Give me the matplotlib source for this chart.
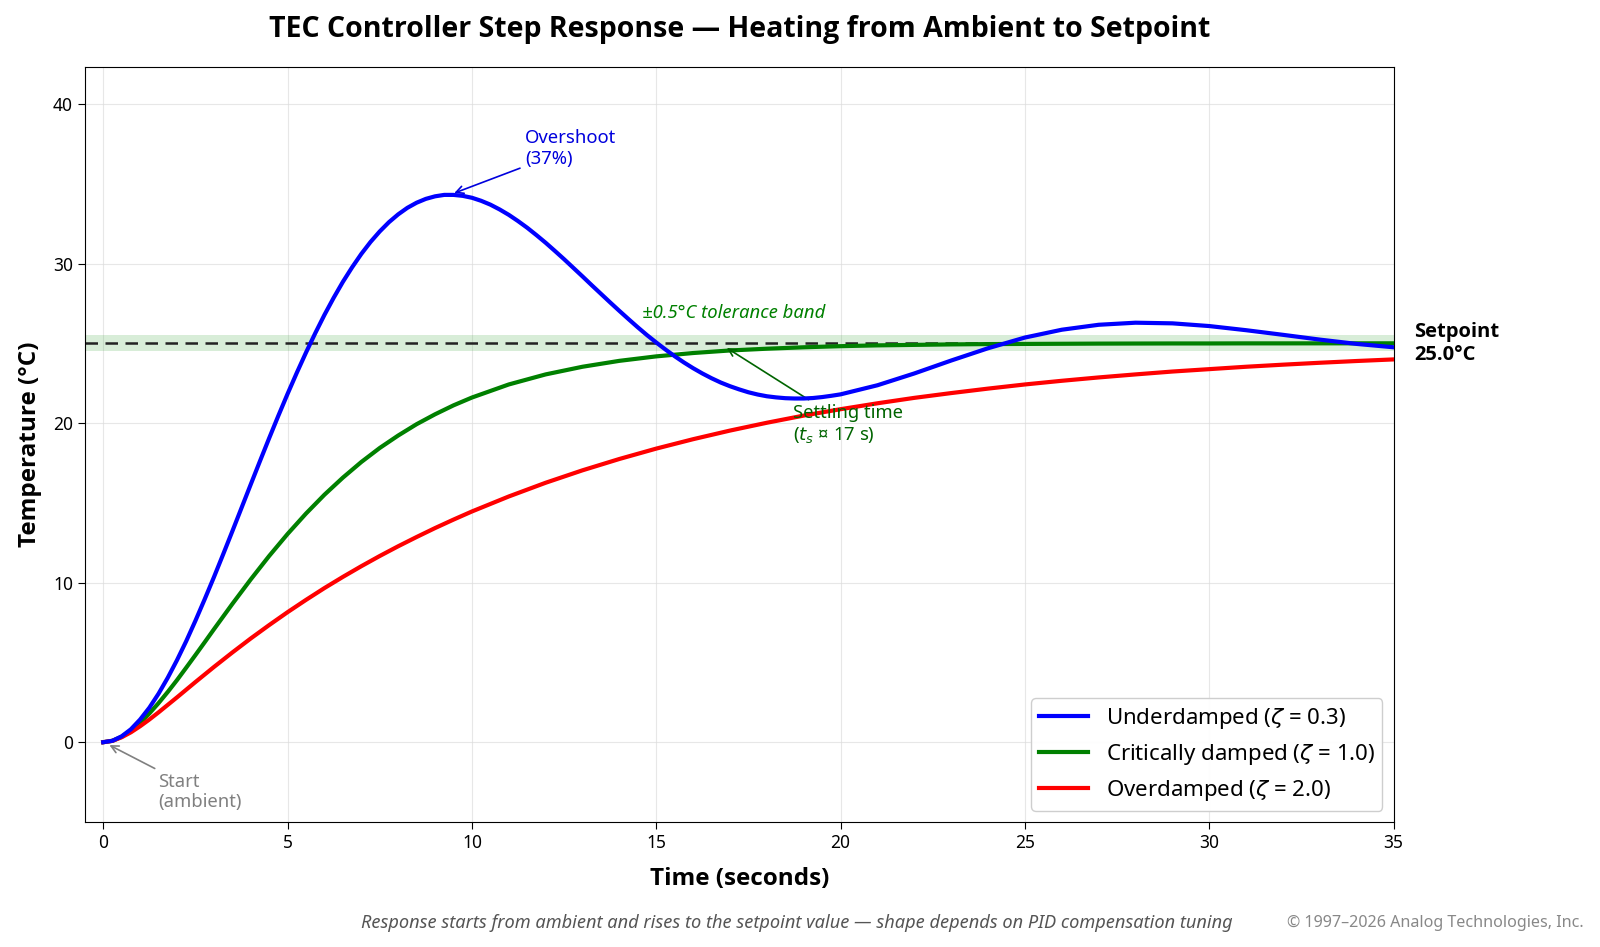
import matplotlib
matplotlib.use("Agg")
import matplotlib.pyplot as plt
from matplotlib import font_manager as fm
from matplotlib.font_manager import FontProperties

# ---------------- data ----------------
setpoint = 25.0
tol = 0.5

t_under = [0, 0.25, 0.5, 0.75, 1, 1.25, 1.5, 1.75, 2, 2.25, 2.5, 2.75, 3, 3.25,
           3.5, 3.75, 4, 4.25, 4.5, 4.75, 5, 5.25, 5.5, 5.75, 6, 6.25, 6.5, 6.75,
           7, 7.25, 7.5, 7.75, 8, 8.25, 8.5, 8.75, 9, 9.25, 9.5, 9.75, 10, 10.25,
           10.5, 10.75, 11, 11.25, 11.5, 11.75, 12, 12.25, 12.5, 12.75, 13, 13.25,
           13.5, 13.75, 14, 14.25, 14.5, 14.75, 15, 15.25, 15.5, 15.75, 16, 16.25,
           16.5, 16.75, 17, 17.25, 17.5, 17.75, 18, 18.25, 18.5, 18.75, 19, 19.25,
           19.5, 19.75, 20, 21, 22, 23, 24, 25, 26, 27, 28, 29, 30, 31, 32, 33,
           34, 35]
y_under = [0.0, 0.09, 0.37, 0.81, 1.42, 2.16, 3.04, 4.04, 5.14, 6.33, 7.61, 8.95,
           10.33, 11.76, 13.21, 14.68, 16.15, 17.61, 19.05, 20.46, 21.83, 23.15,
           24.42, 25.63, 26.78, 27.85, 28.85, 29.76, 30.60, 31.35, 32.01, 32.59,
           33.08, 33.49, 33.81, 34.05, 34.21, 34.30, 34.30, 34.24, 34.12, 33.93,
           33.69, 33.39, 33.05, 32.66, 32.24, 31.78, 31.30, 30.79, 30.27, 29.73,
           29.19, 28.64, 28.10, 27.56, 27.03, 26.51, 26.00, 25.51, 25.05, 24.61,
           24.19, 23.80, 23.44, 23.11, 22.81, 22.54, 22.31, 22.11, 21.93, 21.79,
           21.68, 21.61, 21.56, 21.54, 21.54, 21.57, 21.63, 21.71, 21.80,
           22.37, 23.11, 23.92, 24.69, 25.36, 25.85, 26.16, 26.29, 26.25, 26.08,
           25.82, 25.53, 25.23, 24.96, 24.75]

t_damp = [0, 0.25, 0.5, 0.75, 1, 1.25, 1.5, 1.75, 2, 2.25, 2.5, 2.75, 3, 3.5, 4,
          4.5, 5, 5.5, 6, 6.5, 7, 7.5, 8, 8.5, 9, 9.5, 10, 11, 12, 13, 14, 15, 16,
          17, 18, 19, 20, 21, 22, 23, 24, 25, 26, 27, 28, 29, 30, 31, 32, 33, 34, 35]
y_crit = [0.0, 0.09, 0.34, 0.72, 1.22, 1.80, 2.45, 3.15, 3.89, 4.67, 5.46, 6.26,
          7.07, 8.66, 10.20, 11.67, 13.05, 14.33, 15.51, 16.58, 17.56, 18.44,
          19.22, 19.93, 20.55, 21.11, 21.60, 22.42, 23.05, 23.53, 23.90, 24.18,
          24.39, 24.55, 24.66, 24.75, 24.82, 24.87, 24.90, 24.93, 24.95, 24.96,
          24.97, 24.98, 24.985, 24.99, 24.99, 24.995, 24.995, 24.997, 24.998, 24.998]
y_over = [0.0, 0.085, 0.31, 0.62, 1.00, 1.42, 1.87, 2.34, 2.81, 3.29, 3.77, 4.24,
          4.71, 5.62, 6.50, 7.34, 8.15, 8.92, 9.66, 10.36, 11.03, 11.67, 12.28,
          12.86, 13.42, 13.95, 14.46, 15.40, 16.26, 17.04, 17.75, 18.40, 18.99,
          19.53, 20.02, 20.47, 20.87, 21.24, 21.58, 21.88, 22.16, 22.42, 22.65,
          22.86, 23.05, 23.23, 23.38, 23.53, 23.66, 23.78, 23.89, 23.99]

labels = ["Underdamped ($\\zeta$ = 0.3)", "Critically damped ($\\zeta$ = 1.0)",
          "Overdamped ($\\zeta$ = 2.0)"]
colors = ["#0000ff", "#008000", "#ff0000"]

x_ticks = [0, 5, 10, 15, 20, 25, 30, 35]
y_ticks = [0, 10, 20, 30, 40]


# ---------------- font selection (prefer normal-width Noto Sans) ----------------
def _wnum(w):
    if isinstance(w, (int, float)):
        return w
    return {'normal': 400, 'regular': 400, 'book': 400, 'medium': 500,
            'semibold': 600, 'demibold': 600, 'bold': 700, 'heavy': 800,
            'black': 900, 'light': 300}.get(str(w).lower(), 400)


def _stretch_ok(s):
    if isinstance(s, (int, float)):
        return s == 500
    return str(s).lower() in ('normal', 'medium')


def fprops(size, weight=400, style='normal'):
    for name in ['Noto Sans', 'Open Sans']:
        cands = [f for f in fm.fontManager.ttflist
                 if f.name == name and f.style == style]
        if not cands:
            continue
        best = min(cands, key=lambda f: (0 if _stretch_ok(f.stretch) else 1,
                                         'ondensed' in f.fname or 'Cond' in f.fname,
                                         abs(_wnum(f.weight) - weight)))
        if abs(_wnum(best.weight) - weight) <= 150:
            return FontProperties(fname=best.fname, size=size)
    return FontProperties(family='DejaVu Sans', size=size,
                          weight='bold' if weight >= 600 else 'normal', style=style)


plt.rcParams['font.family'] = ['Noto Sans', 'DejaVu Sans']

# ---------------- figure ----------------
fig = plt.figure(figsize=(16, 9.47), dpi=100)
ax = fig.add_axes([0.053, 0.132, 0.818, 0.797])

ax.axhspan(setpoint - tol, setpoint + tol, color="#2ca02c", alpha=0.18, lw=0, zorder=1)
ax.axhline(setpoint, color="#222222", ls="--", lw=1.8, dashes=(5, 3), zorder=2)

ax.plot(t_under, y_under, color=colors[0], lw=3, label=labels[0], zorder=4,
        solid_joinstyle="round")
ax.plot(t_damp, y_crit, color=colors[1], lw=3, label=labels[1], zorder=3,
        solid_joinstyle="round")
ax.plot(t_damp, y_over, color=colors[2], lw=3, label=labels[2], zorder=3,
        solid_joinstyle="round")

ax.set_xlim(-0.5, 35)
ax.set_ylim(-5, 42.3)
ax.set_xticks(x_ticks)
ax.set_yticks(y_ticks)
ax.tick_params(length=5)
tick_fp = fprops(12.5)
for lab in ax.get_xticklabels() + ax.get_yticklabels():
    lab.set_fontproperties(tick_fp)
ax.grid(True, color="#dddddd", lw=0.8, alpha=0.7)
ax.set_axisbelow(True)

ax.set_xlabel("Time (seconds)", fontproperties=fprops(17.5, 700), labelpad=11)
ax.set_ylabel("Temperature (°C)", fontproperties=fprops(17.5, 700), labelpad=8)
ax.set_title("TEC Controller Step Response — Heating from Ambient to Setpoint",
             fontproperties=fprops(20.5, 700), pad=22)

# annotations
ann_fp = fprops(13.3)
ax.annotate("Overshoot\n(37%)", xy=(9.45, 34.35), xytext=(11.45, 38.4),
            color="#0000dd", fontproperties=ann_fp, va="top", ha="left",
            arrowprops=dict(arrowstyle="->", color="#0000dd", lw=1.2))
ax.annotate("Settling time\n($t_s$ ¤ 17 s)", xy=(16.85, 24.8), xytext=(18.7, 21.2),
            color="#006400", fontproperties=ann_fp, va="top", ha="left",
            arrowprops=dict(arrowstyle="->", color="#006400", lw=1.2))
ax.annotate("Start\n(ambient)", xy=(0.1, -0.1), xytext=(1.5, -1.9),
            color="gray", fontproperties=ann_fp, va="top", ha="left",
            arrowprops=dict(arrowstyle="->", color="gray", lw=1.2))
ax.text(14.6, 26.35, "±0.5°C tolerance band", color="#008000",
        fontproperties=fprops(13.3, 400, 'italic'), ha="left", va="bottom")
ax.text(35.55, 25.0, "Setpoint\n25.0°C", fontproperties=fprops(14.5, 700),
        ha="left", va="center", clip_on=False)

leg = ax.legend(loc="lower right", prop=fprops(16), framealpha=0.95,
                edgecolor="#cccccc", handlelength=2.2, borderpad=0.35,
                labelspacing=0.5)

fig.text(0.498, 0.025, "Response starts from ambient and rises to the setpoint value — shape depends on PID compensation tuning",
         ha="center", va="center", fontproperties=fprops(13.1, 400, 'italic'), color="#555555")
fig.text(0.99, 0.025, "© 1997–2026 Analog Technologies, Inc.", ha="right",
         va="center", fontproperties=fprops(11.6, 400), color="#888888")

fig.savefig("out.png", dpi=100)
